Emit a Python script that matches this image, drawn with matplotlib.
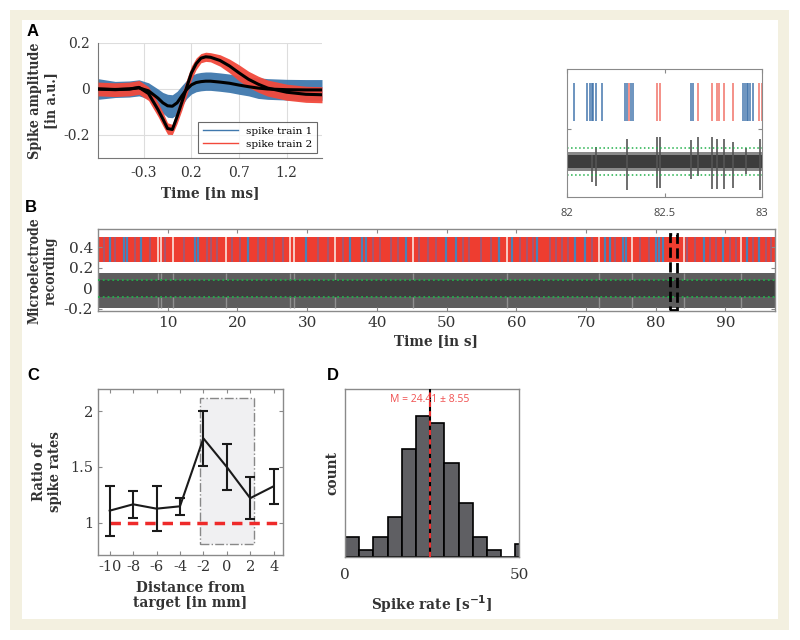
import matplotlib
matplotlib.use("Agg")
import matplotlib.pyplot as plt
from matplotlib.lines import Line2D
from matplotlib.patches import Rectangle

plt.rcParams['axes.unicode_minus'] = False
SERIF = ['DejaVu Serif']
SANS = ['Liberation Sans', 'DejaVu Sans']

# ---------------- data ----------------
# Panel A: spike waveforms (mean + spread) [ms, a.u.]
wave_t = [-0.78, -0.6, -0.45, -0.35, -0.25, -0.15, -0.1, -0.05, 0.0, 0.05, 0.1, 0.15, 0.2,
          0.25, 0.3, 0.35, 0.4, 0.5, 0.6, 0.7, 0.8, 0.9, 1.0, 1.2, 1.4, 1.57]
train1_mean = [0.0, -0.002, 0.0, 0.005, -0.008, -0.04, -0.06, -0.073, -0.075, -0.06, -0.03, -0.002,
               0.018, 0.028, 0.032, 0.034, 0.034, 0.03, 0.025, 0.017, 0.01, 0.004, 0.0, -0.003, -0.004, -0.004]
train1_spread = [0.045, 0.035, 0.035, 0.035, 0.035, 0.04, 0.045, 0.05, 0.05, 0.05, 0.045, 0.04, 0.04,
                 0.04, 0.04, 0.04, 0.04, 0.04, 0.04, 0.04, 0.04, 0.045, 0.045, 0.045, 0.045, 0.045]
train2_mean = [0.0, -0.003, 0.0, 0.007, -0.02, -0.09, -0.13, -0.172, -0.176, -0.12, -0.057, 0.007, 0.07,
               0.11, 0.134, 0.14, 0.138, 0.124, 0.10, 0.07, 0.042, 0.021, 0.004, -0.014, -0.023, -0.025]
train2_spread = [0.03, 0.03, 0.03, 0.03, 0.03, 0.03, 0.03, 0.025, 0.022, 0.03, 0.035, 0.035, 0.03,
                 0.025, 0.02, 0.02, 0.02, 0.025, 0.03, 0.035, 0.035, 0.035, 0.035, 0.035, 0.035, 0.035]
a_xticks = [-0.3, 0.2, 0.7, 1.2]
a_yticks = [-0.2, 0, 0.2]

# Panel B: recording overview [s]
rec_duration = 97.1
raster_low, raster_high = 0.26, 0.50
blue_times = [1.7, 3.8, 4.1, 6.2, 13.9, 14.3, 21.5, 29.8, 36.2, 37.9, 38.5, 44.2, 49.9, 51.3, 57.5,
              59.4, 63.0, 68.4, 69.8, 72.7, 73.4, 75.3, 75.8, 80.1, 80.5, 81.0, 86.9, 89.7, 93.1, 94.8]
purple_times = [0.8, 2.5, 5.3, 7.5, 9.6, 12.4, 15.6, 16.2, 17.0, 19.2, 20.4, 23.0, 24.1, 25.2, 26.5,
                31.5, 33.0, 35.1, 39.4, 40.5, 42.0, 43.0, 46.0, 47.3, 48.5, 52.4, 53.2, 55.0, 56.3,
                60.5, 61.5, 62.4, 64.8, 65.7, 66.5, 67.4, 70.8, 74.2, 77.8, 79.0, 84.5, 85.6, 87.8,
                88.7, 90.6, 91.5, 93.9, 95.8, 96.5]
white_times = [8.6, 9.0, 10.8, 18.3, 27.6, 28.1, 34.0, 45.2, 58.7, 71.9, 76.6, 84.0, 92.2]
noise_low, noise_high = -0.195, 0.155
noise_core = 0.085
threshold = 0.08
b_xticks = [10, 20, 30, 40, 50, 60, 70, 80, 90]
b_yticks = [-0.2, 0, 0.2, 0.4]
zoom_window = (82, 83)

# Inset (82-83 s)
inset_blue = [82.034, 82.105, 82.120, 82.129, 82.134, 82.151, 82.177, 82.298, 82.306, 82.330, 82.337,
              82.637, 82.645, 82.905, 82.914, 82.923, 82.929, 82.938, 82.953]
inset_red = [82.317, 82.461, 82.475, 82.673, 82.742, 82.771, 82.780, 82.806, 82.849, 82.986, 82.998]
spike_t = [82.129, 82.151, 82.306, 82.461, 82.475, 82.637, 82.673, 82.742, 82.771, 82.806, 82.849,
           82.92, 82.99]
spike_top = [0.04, 0.09, 0.14, 0.15, 0.15, 0.13, 0.15, 0.15, 0.14, 0.14, 0.12, 0.08, 0.14]
spike_bot = [-0.13, -0.15, -0.175, -0.165, -0.165, -0.11, -0.09, -0.17, -0.17, -0.17, -0.165, -0.08, -0.175]
inset_noise = 0.04

# Panel C: ratio of spike rates
distance = [-10, -8, -6, -4, -2, 0, 2, 4]
ratio = [1.108, 1.165, 1.126, 1.147, 1.757, 1.50, 1.22, 1.327]
ratio_err = [0.225, 0.12, 0.2, 0.075, 0.25, 0.21, 0.19, 0.155]
target_zone = (-2.3, 2.3, 0.81, 2.12)

# Panel D: spike rate histogram
bin_width = 4.08
counts = [3, 1, 3, 6, 16, 21, 20, 14, 8, 3, 1, 0, 2]
mean_rate, sd_rate = 24.41, 8.55

# ---------------- figure ----------------
W, H = 800, 640
fig = plt.figure(figsize=(8, 6.4), dpi=100)

def px_axes(l, t, r, b):
    return fig.add_axes([l / W, 1 - b / H, (r - l) / W, (b - t) / H])

# frame
fig.patches.append(Rectangle((10 / W, 1 - 630 / H), 779 / W, 620 / H, transform=fig.transFigure,
                             facecolor='#f3f0e0', edgecolor='none', zorder=-10))
fig.patches.append(Rectangle((22 / W, 1 - 619 / H), 756 / W, 599 / H, transform=fig.transFigure,
                             facecolor='white', edgecolor='none', zorder=-9))

tick_col = '#333333'
spine_col = '#8a8a8a'
LBL = dict(family=SERIF, weight='bold', color=tick_col, stretch='condensed')

def style_box(ax):
    for s in ax.spines.values():
        s.set_color(spine_col)
        s.set_linewidth(1.0)
    ax.tick_params(direction='in', color=spine_col, length=3, labelcolor=tick_col,
                   top=True, right=True, labelsize=9.5)
    for lab in ax.get_xticklabels() + ax.get_yticklabels():
        lab.set_family(SERIF)

# ---- Panel A ----
axA = px_axes(98, 43, 322, 158)
blue_c = '#3f78ad'
red_c = '#f2493b'
lo1 = [m - s for m, s in zip(train1_mean, train1_spread)]
hi1 = [m + s for m, s in zip(train1_mean, train1_spread)]
lo2 = [m - s for m, s in zip(train2_mean, train2_spread)]
hi2 = [m + s for m, s in zip(train2_mean, train2_spread)]
axA.fill_between(wave_t, lo1, hi1, color=blue_c, alpha=0.95, lw=0, zorder=2)
axA.fill_between(wave_t, lo2, hi2, color=red_c, alpha=0.95, lw=0, zorder=3)
axA.plot(wave_t, train1_mean, color='black', lw=2.2, zorder=4)
axA.plot(wave_t, train2_mean, color='black', lw=2.2, zorder=5)
axA.set_xlim(-0.78, 1.57)
axA.set_ylim(-0.3, 0.2)
axA.set_xticks(a_xticks)
axA.set_xticklabels(['-0.3', '0.2', '0.7', '1.2'])
axA.set_yticks(a_yticks)
axA.set_yticklabels(['-0.2', '0', '0.2'])
axA.grid(True, color='#dddddd', lw=0.8)
axA.set_axisbelow(True)
for k in ['top', 'right']:
    axA.spines[k].set_visible(False)
for k in ['left', 'bottom']:
    axA.spines[k].set_color('#777777')
axA.tick_params(length=0, labelcolor=tick_col, labelsize=10, pad=6)
for lab in axA.get_xticklabels() + axA.get_yticklabels():
    lab.set_family(SERIF)
axA.set_xlabel('Time [in ms]', fontsize=11, labelpad=4, **LBL)
fig.text(43 / W, 1 - 101 / H, 'Spike amplitude\n[in a.u.]', rotation=90, ha='center', va='center',
         fontsize=10.2, linespacing=1.2, **LBL)
leg = axA.legend([Line2D([], [], color=blue_c, lw=1), Line2D([], [], color=red_c, lw=1)],
                 ['spike train 1', 'spike train 2'], loc='lower right',
                 prop={'family': SERIF, 'size': 7.5}, frameon=True, fancybox=False,
                 borderpad=0.45, handlelength=3.4, labelspacing=0.35, borderaxespad=0.45)
leg.get_frame().set_edgecolor('#444444')
leg.get_frame().set_linewidth(0.8)

# ---- Inset ----
axI = px_axes(567, 69, 762, 197)
axI.vlines(inset_blue, 0.25, 0.485, color='#3a6fa8', lw=1.3, alpha=0.8)
axI.vlines(inset_red, 0.25, 0.485, color='#f06a60', lw=1.3, alpha=0.8)
axI.fill_between(list(zoom_window), -inset_noise * 1.5, inset_noise * 1.5, color='#8a8a8a', lw=0)
axI.fill_between(list(zoom_window), -inset_noise, inset_noise, color='#3d3d3d', lw=0)
axI.vlines(spike_t, spike_bot, spike_top, color='#555555', lw=1.2)
axI.axhline(threshold + 0.005, color='#22b04b', ls=':', lw=1.1)
axI.axhline(-threshold - 0.005, color='#22b04b', ls=':', lw=1.1)
axI.set_xlim(*zoom_window)
axI.set_ylim(-0.22, 0.57)
axI.set_xticks([82, 82.5, 83])
axI.set_xticklabels(['82', '82.5', '83'])
axI.set_yticks([0.2])
axI.set_yticklabels([])
for s in axI.spines.values():
    s.set_color('#8a8a8a')
axI.tick_params(direction='in', length=3, color='#8a8a8a', top=True, right=True,
                labelsize=8, labelcolor='#444444', pad=8)
for lab in axI.get_xticklabels():
    lab.set_family(['Open Sans', 'DejaVu Sans'])

# ---- Panel B ----
axB = px_axes(98, 229, 775, 311)
axB.fill_between([0, rec_duration], raster_low, raster_high, color='#ee3d30', lw=0, zorder=1)
axB.vlines(purple_times, raster_low, raster_high, color='#9a5a7c', lw=1.4, alpha=0.85, zorder=2)
axB.vlines(blue_times, raster_low, raster_high, color='#4a82b8', lw=1.6, zorder=3)
axB.vlines(white_times, raster_low, raster_high, color='#f8d6d0', lw=1.3, zorder=3)
axB.fill_between([0, rec_duration], noise_low, noise_high, color='#5e5e5e', lw=0, zorder=1)
axB.vlines(white_times, noise_low, -noise_core, color='#909090', lw=1.0, zorder=2)
axB.vlines(white_times, noise_core, noise_high, color='#909090', lw=1.0, zorder=2)
axB.fill_between([0, rec_duration], -noise_core, noise_core, color='#3e3e3e', lw=0, zorder=2)
axB.axhline(threshold, color='#22b04b', ls=':', lw=1.3, zorder=4)
axB.axhline(-threshold, color='#22b04b', ls=':', lw=1.3, zorder=4)
axB.add_patch(Rectangle((zoom_window[0], -0.215), zoom_window[1] - zoom_window[0], 0.745,
                        fill=False, ls='--', lw=2.0, ec='black', zorder=6))
axB.set_xlim(0, rec_duration)
axB.set_ylim(-0.22, 0.58)
axB.set_xticks(b_xticks)
axB.set_yticks(b_yticks)
axB.set_yticklabels(['-0.2', '0', '0.2', '0.4'])
style_box(axB)
axB.tick_params(labelsize=11)
axB.set_xlabel('Time [in s]', fontsize=11, labelpad=3, **LBL)
fig.text(43 / W, 1 - 271 / H, 'Microelectrode\nrecording', rotation=90, ha='center', va='center',
         fontsize=10, linespacing=1.2, **LBL)

# ---- Panel C ----
axC = px_axes(98, 389, 283, 555)
zx0, zx1, zy0, zy1 = target_zone
axC.add_patch(Rectangle((zx0, zy0), zx1 - zx0, zy1 - zy0, facecolor='#f0f0f2', edgecolor='#888888',
                        ls='-.', lw=1.0, zorder=1))
axC.plot([distance[0], 5], [1, 1], color='#ee2a2a', lw=2.5, ls=(0, (3, 2)), zorder=2)
axC.errorbar(distance, ratio, yerr=ratio_err, color='#1a1a1a', lw=1.5, elinewidth=1.5,
             capsize=3.5, capthick=1.5, zorder=3)
axC.set_xlim(-11, 4.8)
axC.set_ylim(0.71, 2.2)
axC.set_xticks(distance)
axC.set_yticks([1, 1.5, 2])
axC.set_yticklabels(['1', '1.5', '2'])
style_box(axC)
axC.tick_params(labelsize=10.5)
axC.set_xlabel('Distance from\ntarget [in mm]', fontsize=11, labelpad=5, linespacing=1.1, **LBL)
fig.text(47 / W, 1 - 472 / H, 'Ratio of\nspike rates', rotation=90, ha='center', va='center',
         fontsize=10.5, linespacing=1.2, **LBL)

# ---- Panel D ----
axD = px_axes(345, 389, 519, 557)
edges = [i * bin_width for i in range(len(counts))]
axD.bar(edges, counts, width=bin_width, align='edge', color='#5f5f63', edgecolor='black', lw=1.2,
        zorder=2)
axD.axvline(mean_rate, color='black', lw=1.5, zorder=3)
axD.axvline(mean_rate, color='#ee3030', lw=1.5, ls=(0, (2.5, 2)), zorder=4)
axD.text(mean_rate, 23.4, 'M = %.2f \u00b1 %.2f' % (mean_rate, sd_rate), color='#f05050', ha='center',
         va='center', fontsize=7.5, family=['Open Sans', 'DejaVu Sans'])
axD.set_xlim(0, 50)
axD.set_ylim(0, 25)
axD.set_xticks([0, 50])
axD.set_yticks([])
style_box(axD)
axD.tick_params(labelsize=11, length=0, pad=8)
axD.set_xlabel('Spike rate [s$^{\\mathbf{-1}}$]', fontsize=11, labelpad=8, **LBL)
axD.set_ylabel('count', fontsize=11, labelpad=4, **LBL)

# panel letters
for letter, x, y in [('A', 33, 31), ('B', 31, 207), ('C', 33, 375), ('D', 333, 375)]:
    fig.text(x / W, 1 - y / H, letter, family=SANS, weight='bold', fontsize=12, ha='center', va='center')

fig.savefig('out.png', dpi=100)
